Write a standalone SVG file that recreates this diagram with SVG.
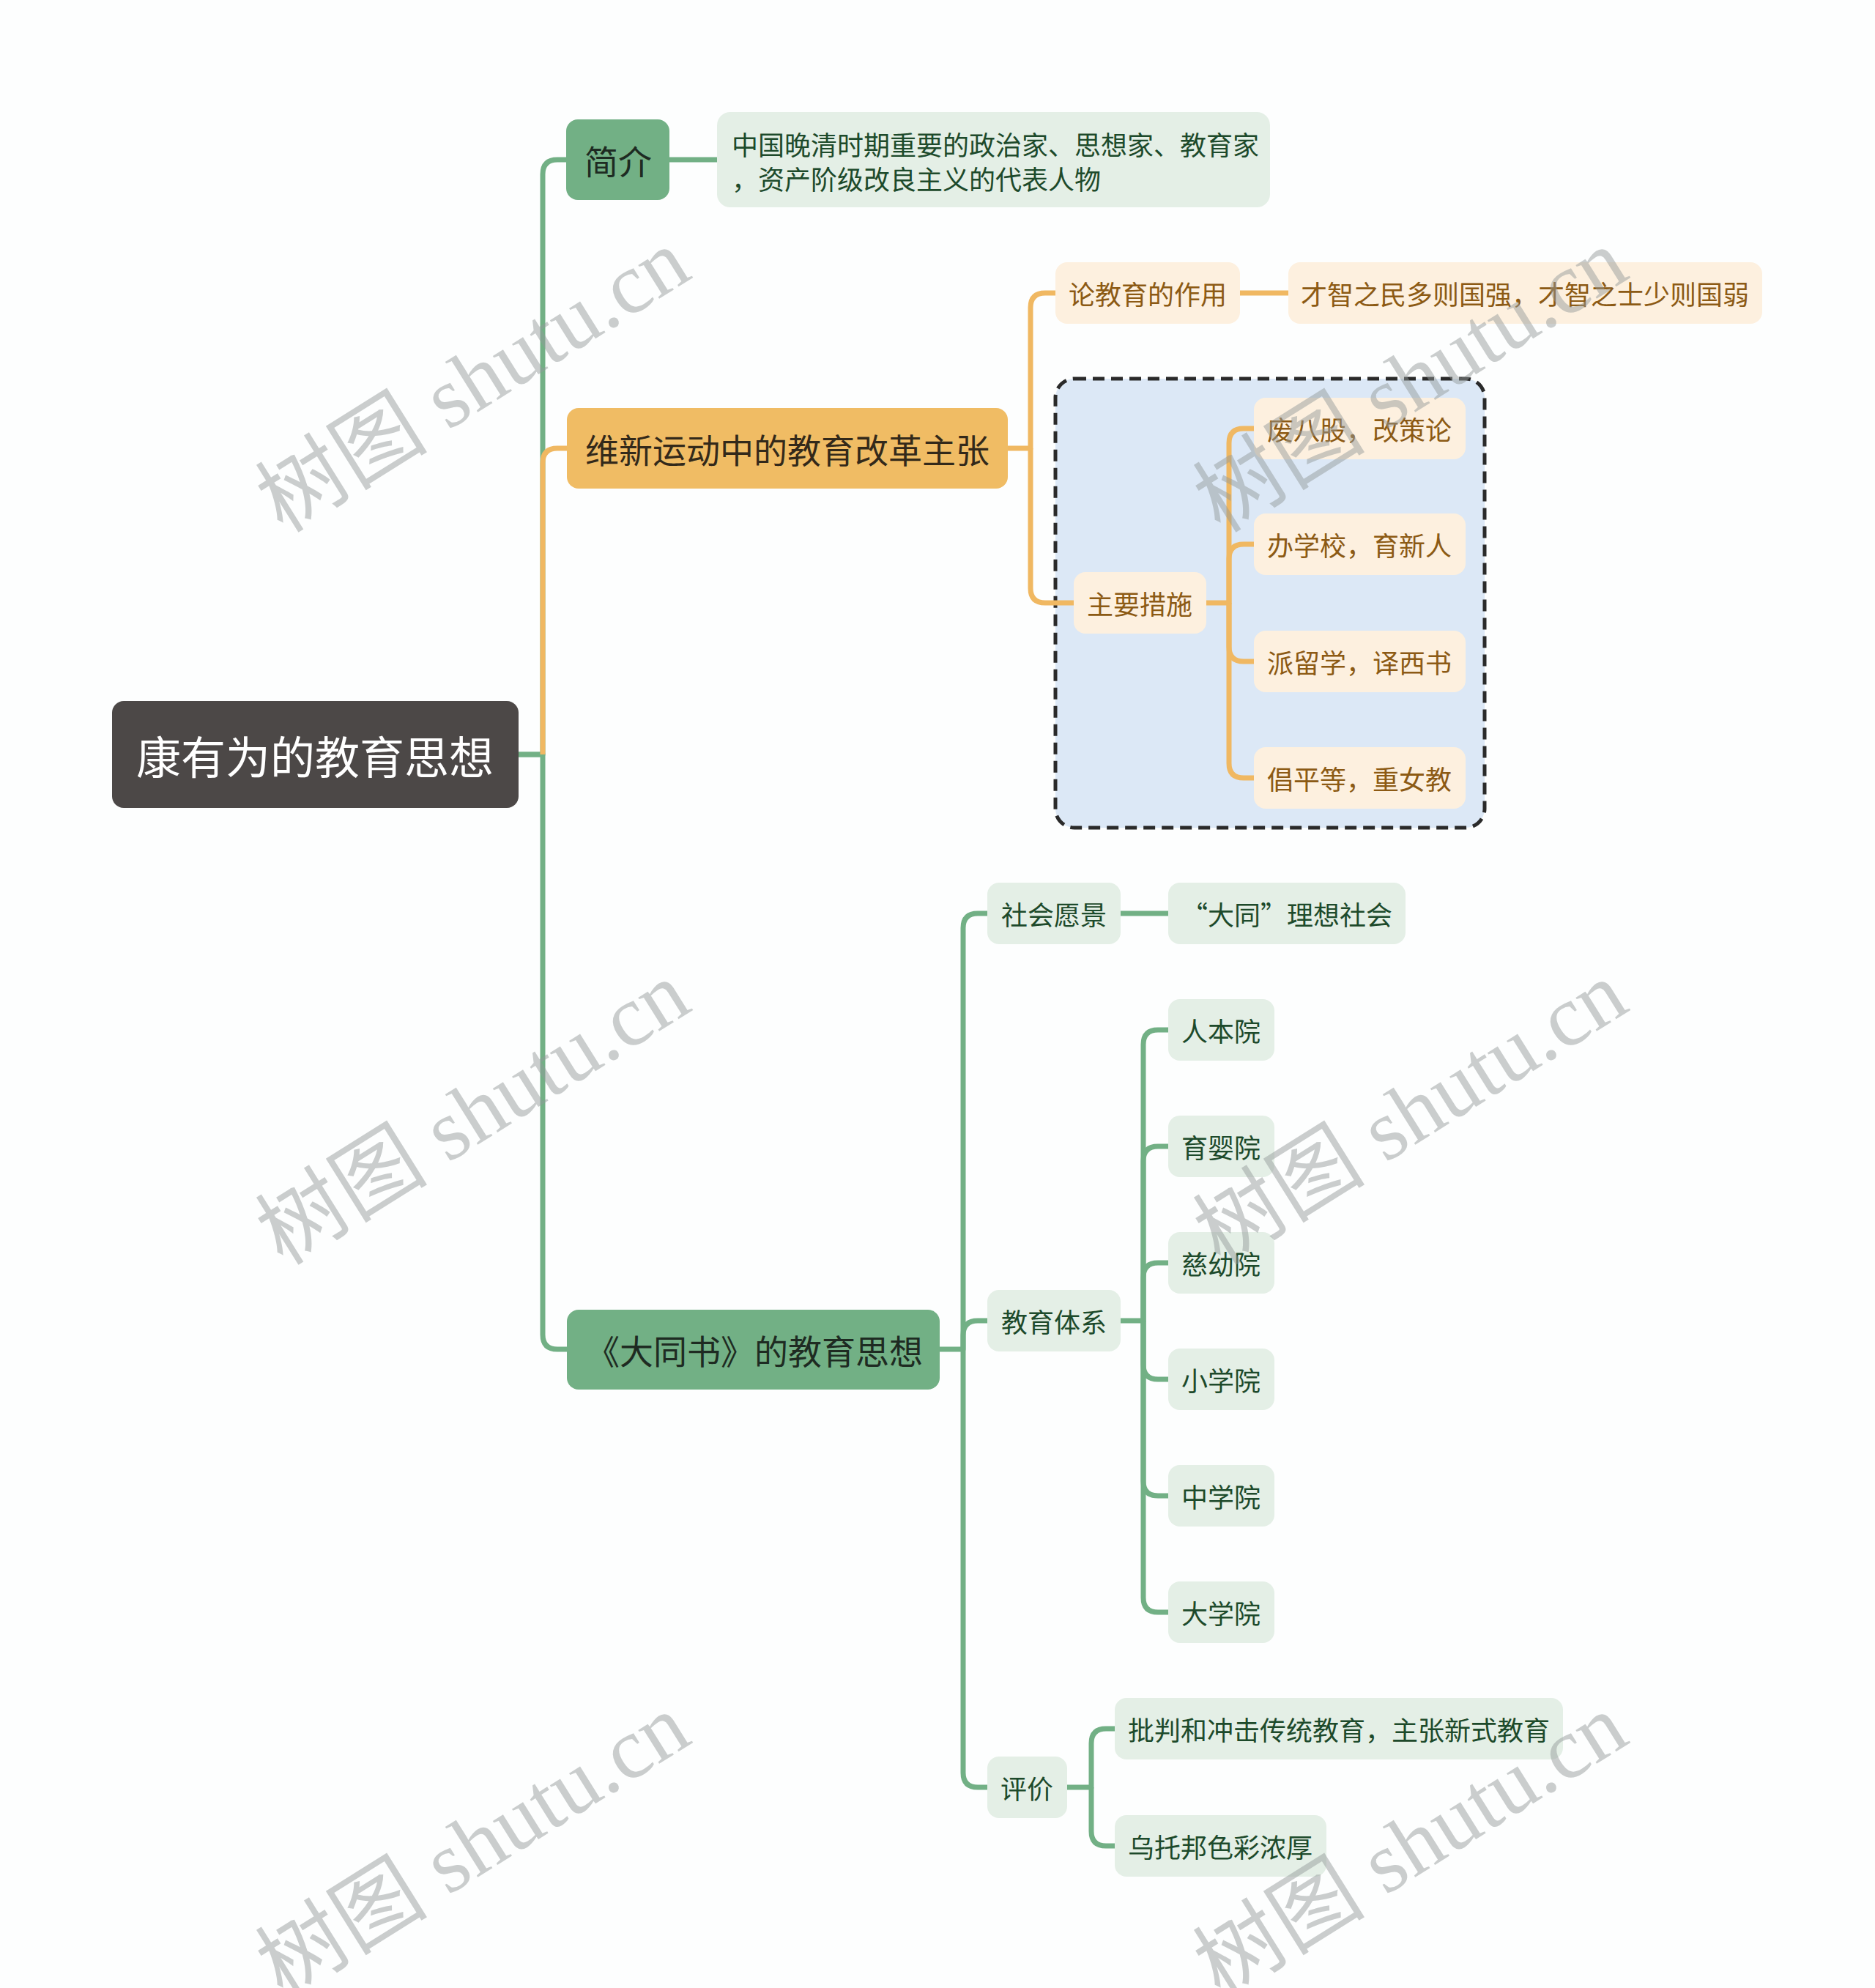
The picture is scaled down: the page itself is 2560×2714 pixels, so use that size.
<svg xmlns="http://www.w3.org/2000/svg" width="2560" height="2714" viewBox="0 0 2560 2714">
<defs>
<style>
.t{font-family:"Noto Sans CJK SC","Noto Sans",sans-serif;text-anchor:middle;dominant-baseline:central}
.root{fill:#4c4847}
.rootT{fill:#ffffff;font-size:61px}
.g2{fill:#72b085}
.g2T{fill:#1e2b22;font-size:46px}
.o2{fill:#f0bc64}
.o2T{fill:#33291a;font-size:46px}
.gl{fill:#e4efe6}
.glT{fill:#1d4a2b;font-size:36px}
.ol{fill:#fdf0df}
.olT{fill:#8c5a14;font-size:36px}
.cg{fill:none;stroke:#72b085;stroke-width:7;stroke-linecap:butt;stroke-linejoin:round}
.co{fill:none;stroke:#f0b862;stroke-width:7;stroke-linecap:butt;stroke-linejoin:round}
.wm{font-family:"Liberation Serif","Noto Sans CJK SC",serif;font-size:118px;fill:#939a9a;opacity:0.48;text-anchor:middle;dominant-baseline:central}
</style>
</defs>
<rect x="0" y="0" width="2560" height="2714" fill="#fdfefe"/>

<g id="boundary">
<rect x="1441" y="517" width="586" height="613" rx="26" fill="#dce8f6" stroke="#2a2a2a" stroke-width="5" stroke-dasharray="16 9"/>
</g>

<g id="connectors">
<path class="cg" d="M708,1030 H741 V238 Q741,218 761,218 H775"/>
<path class="cg" d="M708,1030 H741 V1822 Q741,1842 761,1842 H775"/>
<path class="co" d="M741,1030 V632 Q741,612 761,612 H776"/>
<path class="cg" d="M914,218 H980"/>
<path class="co" d="M1376,612 H1407 V420 Q1407,400 1427,400 H1442"/>
<path class="co" d="M1407,612 V803 Q1407,823 1427,823 H1467"/>
<path class="co" d="M1693,400 H1760"/>
<path class="co" d="M1647,823 H1678 V605 Q1678,585 1698,585 H1713"/>
<path class="co" d="M1678,823 V763 Q1678,743 1698,743 H1713"/>
<path class="co" d="M1678,823 V883 Q1678,903 1698,903 H1713"/>
<path class="co" d="M1678,823 V1042 Q1678,1062 1698,1062 H1713"/>
<path class="cg" d="M1283,1842 H1315 V1267 Q1315,1247 1335,1247 H1349"/>
<path class="cg" d="M1315,1842 V1823 Q1315,1803 1335,1803 H1349"/>
<path class="cg" d="M1315,1842 V2420 Q1315,2440 1335,2440 H1349"/>
<path class="cg" d="M1530,1247 H1596"/>
<path class="cg" d="M1530,1803 H1561 V1426 Q1561,1406 1581,1406 H1596"/>
<path class="cg" d="M1561,1803 V1585 Q1561,1565 1581,1565 H1596"/>
<path class="cg" d="M1561,1803 V1744 Q1561,1724 1581,1724 H1596"/>
<path class="cg" d="M1561,1803 V1863 Q1561,1883 1581,1883 H1596"/>
<path class="cg" d="M1561,1803 V2022 Q1561,2042 1581,2042 H1596"/>
<path class="cg" d="M1561,1803 V2181 Q1561,2201 1581,2201 H1596"/>
<path class="cg" d="M1457,2440 H1490 V2380 Q1490,2360 1510,2360 H1523"/>
<path class="cg" d="M1490,2440 V2500 Q1490,2520 1510,2520 H1523"/>
</g>

<g id="root">
<rect class="root" x="153" y="957" width="555" height="146" rx="16"/>
<text class="t rootT" x="430" y="1030">康有为的教育思想</text>
</g>

<g id="n-jianjie">
<rect class="g2" x="773" y="163" width="141" height="110" rx="16"/>
<text class="t g2T" x="844" y="218">简介</text>
</g>
<g id="n-jianjie-leaf">
<rect class="gl" x="979" y="153" width="755" height="130" rx="18"/>
<text class="t glT" x="999" y="196" style="text-anchor:start">中国晚清时期重要的政治家、思想家、教育家</text>
<text class="t glT" x="999" y="243" style="text-anchor:start">，资产阶级改良主义的代表人物</text>
</g>

<g id="n-weixin">
<rect class="o2" x="774" y="557" width="602" height="110" rx="16"/>
<text class="t o2T" x="1075" y="612">维新运动中的教育改革主张</text>
</g>
<g id="n-lunjiaoyu">
<rect class="ol" x="1441" y="358" width="252" height="84" rx="16"/>
<text class="t olT" x="1567" y="400">论教育的作用</text>
</g>
<g id="n-caizhi">
<rect class="ol" x="1759" y="358" width="647" height="84" rx="16"/>
<text class="t olT" x="2082" y="400">才智之民多则国强，才智之士少则国弱</text>
</g>
<g id="n-cuoshi">
<rect class="ol" x="1466" y="781" width="181" height="84" rx="16"/>
<text class="t olT" x="1556" y="823">主要措施</text>
</g>
<g id="n-c1">
<rect class="ol" x="1712" y="543" width="289" height="84" rx="16"/>
<text class="t olT" x="1856" y="585">废八股，改策论</text>
</g>
<g id="n-c2">
<rect class="ol" x="1712" y="701" width="289" height="84" rx="16"/>
<text class="t olT" x="1856" y="743">办学校，育新人</text>
</g>
<g id="n-c3">
<rect class="ol" x="1712" y="861" width="289" height="84" rx="16"/>
<text class="t olT" x="1856" y="903">派留学，译西书</text>
</g>
<g id="n-c4">
<rect class="ol" x="1712" y="1020" width="289" height="84" rx="16"/>
<text class="t olT" x="1856" y="1062">倡平等，重女教</text>
</g>

<g id="n-datong">
<rect class="g2" x="774" y="1788" width="509" height="109" rx="16"/>
<text class="t g2T" x="1030" y="1842">《大同书》的教育思想</text>
</g>
<g id="n-shehui">
<rect class="gl" x="1348" y="1205" width="182" height="84" rx="16"/>
<text class="t glT" x="1439" y="1247">社会愿景</text>
</g>
<g id="n-datonglixiang">
<rect class="gl" x="1595" y="1205" width="324" height="84" rx="16"/>
<text class="t glT" x="1757" y="1247">“大同”理想社会</text>
</g>
<g id="n-tixi">
<rect class="gl" x="1348" y="1761" width="182" height="84" rx="16"/>
<text class="t glT" x="1439" y="1803">教育体系</text>
</g>
<g id="n-y1">
<rect class="gl" x="1595" y="1364" width="145" height="84" rx="16"/>
<text class="t glT" x="1667" y="1406">人本院</text>
</g>
<g id="n-y2">
<rect class="gl" x="1595" y="1523" width="145" height="84" rx="16"/>
<text class="t glT" x="1667" y="1565">育婴院</text>
</g>
<g id="n-y3">
<rect class="gl" x="1595" y="1682" width="145" height="84" rx="16"/>
<text class="t glT" x="1667" y="1724">慈幼院</text>
</g>
<g id="n-y4">
<rect class="gl" x="1595" y="1841" width="145" height="84" rx="16"/>
<text class="t glT" x="1667" y="1883">小学院</text>
</g>
<g id="n-y5">
<rect class="gl" x="1595" y="2000" width="145" height="84" rx="16"/>
<text class="t glT" x="1667" y="2042">中学院</text>
</g>
<g id="n-y6">
<rect class="gl" x="1595" y="2159" width="145" height="84" rx="16"/>
<text class="t glT" x="1667" y="2201">大学院</text>
</g>
<g id="n-pingjia">
<rect class="gl" x="1348" y="2398" width="109" height="84" rx="16"/>
<text class="t glT" x="1402" y="2440">评价</text>
</g>
<g id="n-pipan">
<rect class="gl" x="1522" y="2318" width="612" height="84" rx="16"/>
<text class="t glT" x="1828" y="2360">批判和冲击传统教育，主张新式教育</text>
</g>
<g id="n-wutuobang">
<rect class="gl" x="1522" y="2478" width="289" height="84" rx="16"/>
<text class="t glT" x="1666" y="2520">乌托邦色彩浓厚</text>
</g>

<g id="watermark">
<text class="wm" transform="translate(646,520) rotate(-32)">树图 shutu.cn</text>
<text class="wm" transform="translate(1926,520) rotate(-32)">树图 shutu.cn</text>
<text class="wm" transform="translate(646,1520) rotate(-32)">树图 shutu.cn</text>
<text class="wm" transform="translate(1926,1520) rotate(-32)">树图 shutu.cn</text>
<text class="wm" transform="translate(646,2520) rotate(-32)">树图 shutu.cn</text>
<text class="wm" transform="translate(1926,2520) rotate(-32)">树图 shutu.cn</text>
</g>
</svg>
